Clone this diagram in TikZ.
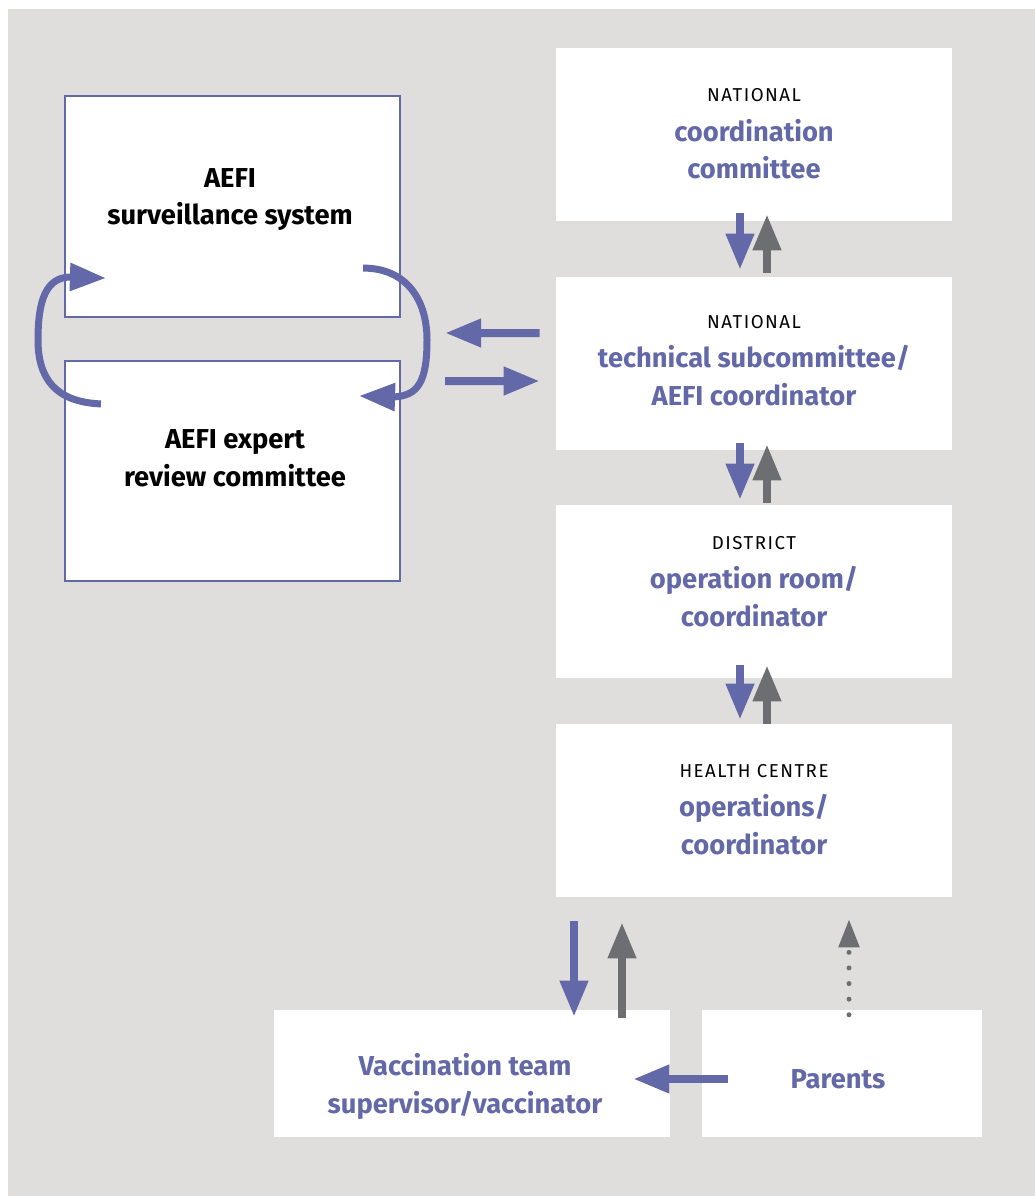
\documentclass[tikz,border=0pt]{standalone}
\usepackage{fontspec}
\setmainfont{Fira Sans}
\usetikzlibrary{arrows.meta,calc}

\definecolor{aefipurple}{RGB}{99,104,168}
\definecolor{arrowgray}{RGB}{109,110,113}
\definecolor{panelgray}{RGB}{223,222,220}

\begin{document}
\begin{tikzpicture}[x=0.75pt,y=-0.75pt,
  levelbox/.style={fill=white, draw=none, inner sep=0pt,
    minimum width=297pt, minimum height=129.75pt},
  fieldbox/.style={fill=white, draw=none, inner sep=0pt, minimum height=95.25pt},
  aefibox/.style={fill=white, draw=aefipurple, line width=1.6pt, inner sep=0pt,
    minimum width=251.25pt},
  leveltag/.style={inner sep=0pt, anchor=base, text=black,
    font=\fontsize{14}{16}\selectfont\addfontfeatures{LetterSpace=8}},
  title/.style={inner sep=0pt, anchor=base, text=aefipurple,
    font=\bfseries\fontsize{20.5}{24}\selectfont},
  blacktitle/.style={title, text=black},
  flowpurple/.style={draw=aefipurple, line width=6pt,
    -{Triangle[length=27pt,width=20pt]}},
  flowgray/.style={draw=arrowgray, line width=6pt,
    -{Triangle[length=27pt,width=20pt]}},
  flowdotted/.style={draw=arrowgray, line width=3.75pt, line cap=round,
    dash pattern=on 0pt off 11.7pt, -{Triangle[length=21pt,width=15pt]}},
  loopline/.style={draw=aefipurple, line width=5.25pt,
    -{Triangle[length=27pt,width=20pt]}}
]
\useasboundingbox (0,0) rectangle (1035,1196);
\fill[panelgray] (8,9) rectangle (1035,1196);

% reporting levels
\node[levelbox] (coord)  at (754,134.5) {};
\node[levelbox] (tech)   at (754,363.5) {};
\node[levelbox] (dist)   at (754,591.5) {};
\node[levelbox] (health) at (754,810.5) {};
\node[fieldbox, minimum width=297pt] (vacc)    at (472,1073.5) {};
\node[fieldbox, minimum width=210pt] (parents) at (842,1073.5) {};

% AEFI system boxes
\node[aefibox, minimum height=165.75pt] (surv)   at (232.5,206.5) {};
\node[aefibox, minimum height=165pt]    (expert) at (232.5,471) {};

% texts
\node[leveltag] (coordtag) at (754,101) {NATIONAL};
\node[title] (coordt1) at (754,141) {coordination};
\node[title] (coordt2) at (754,178) {committee};

\node[leveltag] (techtag) at (754,328) {NATIONAL};
\node[title] (techt1) at (754,367) {technical subcommittee/};
\node[title] (techt2) at (754,405) {AEFI coordinator};

\node[leveltag] (disttag) at (754,549) {DISTRICT};
\node[title] (distt1) at (754,588) {operation room/};
\node[title] (distt2) at (754,626) {coordinator};

\node[leveltag] (healthtag) at (754,777) {HEALTH CENTRE};
\node[title] (healtht1) at (754,816) {operations/};
\node[title] (healtht2) at (754,854) {coordinator};

\node[title] (vacct1) at (465,1075) {Vaccination team};
\node[title] (vacct2) at (465,1113) {supervisor/vaccinator};
\node[title] (parentst) at (838,1088) {Parents};

\node[blacktitle] (survt1) at (230,187) {AEFI};
\node[blacktitle] (survt2) at (230,224) {surveillance system};
\node[blacktitle] (expertt1) at (235,448) {AEFI expert};
\node[blacktitle] (expertt2) at (235,486) {review committee};

% vertical flows between levels
\draw[flowpurple] ($(coord.south)+(-14,-8)$) -- ($(tech.north)+(-14,-7)$);
\draw[flowgray]   ($(tech.north)+(13,-4)$) -- ($(coord.south)+(13,-7)$);
\draw[flowpurple] ($(tech.south)+(-14,-7)$) -- ($(dist.north)+(-14,-5)$);
\draw[flowgray]   ($(dist.north)+(13,-2)$) -- ($(tech.south)+(13,-6)$);
\draw[flowpurple] ($(dist.south)+(-14,-13)$) -- ($(health.north)+(-14,-4)$);
\draw[flowgray]   ($(health.north)+(13,0)$) -- ($(dist.south)+(13,-13)$);

% health centre and field level
\draw[flowpurple] ($(health.south)+(-180,24)$) -- ($(vacc.north)+(102,7)$);
\draw[flowgray]   ($(vacc.north)+(150,8)$) -- ($(health.south)+(-132,25)$);
\draw[flowdotted] ($(parents.north)+(7,5)$) -- ($(health.south)+(95,22)$);
\draw[flowpurple] ($(parents.west)+(26,5.5)$) -- ($(vacc.east)+(-37,5.5)$);

% exchange with the AEFI system
\coordinate (aefiside) at ($(surv.south east)!0.5!(expert.north east)$);
\draw[flowpurple] ($(tech.west)+(-16,-30.5)$) -- ($(aefiside)+(44,-6)$);
\draw[flowpurple] ($(aefiside)+(44,42)$) -- ($(tech.west)+(-16,17.5)$);

% loop between surveillance and expert review
\coordinate (loopLstart) at ($(expert.north west)+(37,44)$);
\coordinate (loopLend)   at ($(surv.south west)+(42,-40)$);
\coordinate (loopRstart) at ($(surv.south east)+(-38,-50)$);
\coordinate (loopRend)   at ($(expert.north east)+(-42,36)$);
\draw[loopline] (loopLstart) .. controls (55,402) and (38,378) .. (38,340)
  .. controls (38,300) and (46,277) .. (71,277) -- (loopLend);
\draw[loopline] (loopRstart) .. controls (405,268) and (427,298) .. (427,340)
  .. controls (427,382) and (418,396) .. (393,397) -- (loopRend);
\end{tikzpicture}
\end{document}
